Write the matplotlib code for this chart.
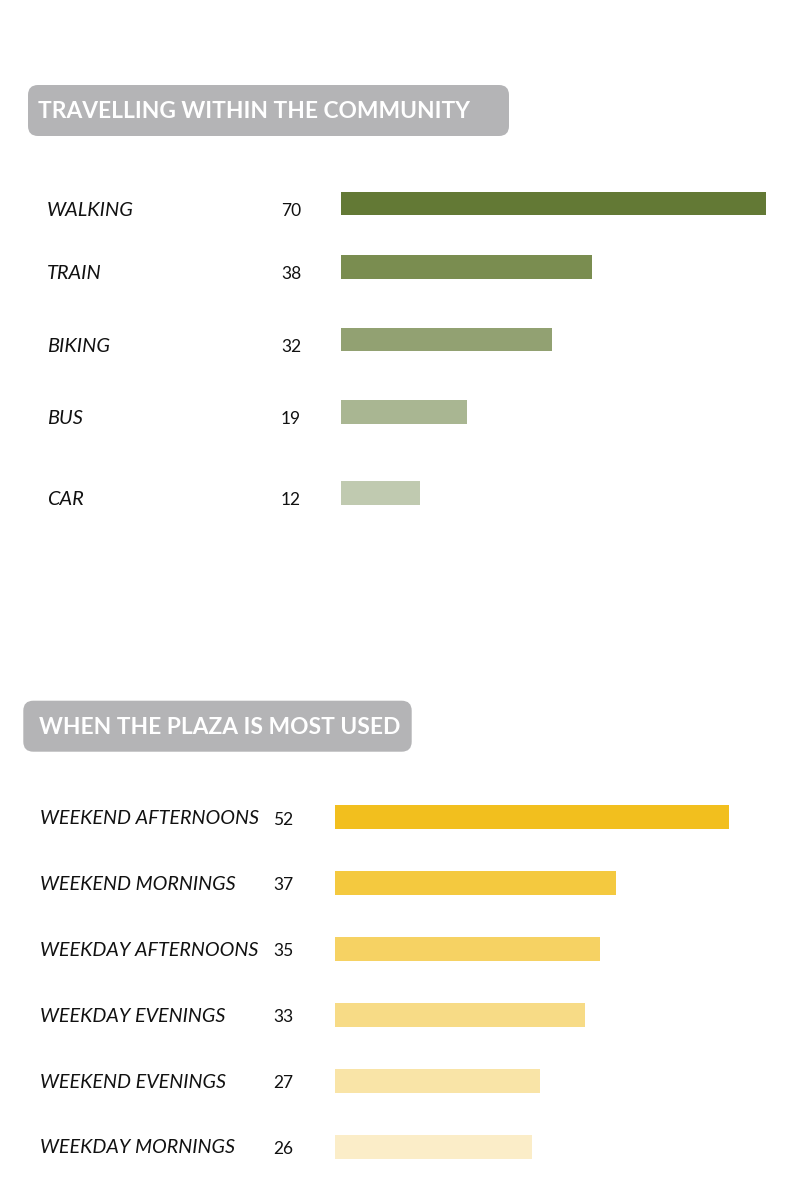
import matplotlib.pyplot as plt
from matplotlib.patches import FancyBboxPatch

# data
travel_labels = ['WALKING', 'TRAIN', 'BIKING', 'BUS', 'CAR']
travel_values = [70, 38, 32, 19, 12]
travel_colors = ['#637935', '#7a8d50', '#92a172', '#a9b692', '#c0cab0']

plaza_labels = ['WEEKEND AFTERNOONS', 'WEEKEND MORNINGS', 'WEEKDAY AFTERNOONS',
                'WEEKDAY EVENINGS', 'WEEKEND EVENINGS', 'WEEKDAY MORNINGS']
plaza_values = [52, 37, 35, 33, 27, 26]
plaza_colors = ['#f2bf1e', '#f4c93f', '#f6d263', '#f7db86', '#f9e4a7', '#fbedc8']

# layout (pixel rows, figure is 800x1200)
travel_rows = [203.5, 267, 339.5, 412.3, 493.2]
plaza_rows = [817.3, 883, 949, 1015, 1081, 1146.7]
W, H = 800, 1200

plt.rcParams['font.family'] = 'Lato'
fig = plt.figure(figsize=(8, 12), dpi=100)
fig.patch.set_facecolor('white')

# overlay in pixel coordinates for boxes and text
ov = fig.add_axes([0, 0, 1, 1])
ov.set_xlim(0, W)
ov.set_ylim(H, 0)
ov.axis('off')


def title_box(x0, y0, x1, y1, text, tx):
    box = FancyBboxPatch((x0 + 10, y0 + 10), x1 - x0 - 20, y1 - y0 - 20,
                         boxstyle='round,pad=10', fc='#b4b4b6', ec='none')
    ov.add_patch(box)
    ov.text(tx, (y0 + y1) / 2 + 1, text, color='white', fontsize=16.4,
            fontweight='bold', va='center', ha='left')


def bar_panel(x_left, x_right, y_top, y_bot, rows, values, colors, xmax):
    ax = fig.add_axes([x_left / W, 1 - y_bot / H, (x_right - x_left) / W, (y_bot - y_top) / H],
                      zorder=2)
    ax.barh(rows, values, height=23.8, color=colors, left=0)
    ax.set_xlim(0, xmax)
    ax.set_ylim(y_bot, y_top)
    ax.axis('off')
    ax.patch.set_alpha(0)
    return ax


# panel 1
title_box(28, 85, 509, 136, 'TRAVELLING WITHIN THE COMMUNITY', 38)
bar_panel(341.3, 765.7, 180, 520, travel_rows, travel_values, travel_colors, 64.4)
for lab, val, y in zip(travel_labels, travel_values, travel_rows):
    ov.text(47, y + 6.5, lab, fontsize=14.4, style='italic', color='#111111',
            va='center', ha='left')
    ov.text(281, y + 7, str(val), fontsize=12.5, color='#111111',
            va='center', ha='left')

# panel 2
title_box(23.3, 700.7, 411.7, 751.7, 'WHEN THE PLAZA IS MOST USED', 39)
bar_panel(334.7, 785, 790, 1175, plaza_rows, plaza_values, plaza_colors, 450.3 / 7.59)
for lab, val, y in zip(plaza_labels, plaza_values, plaza_rows):
    ov.text(40, y + 1, lab, fontsize=14.2, style='italic', color='#111111',
            va='center', ha='left')
    ov.text(273, y + 2.5, str(val), fontsize=12.5, color='#111111',
            va='center', ha='left')

fig.savefig('out.png', dpi=100, facecolor='white')
